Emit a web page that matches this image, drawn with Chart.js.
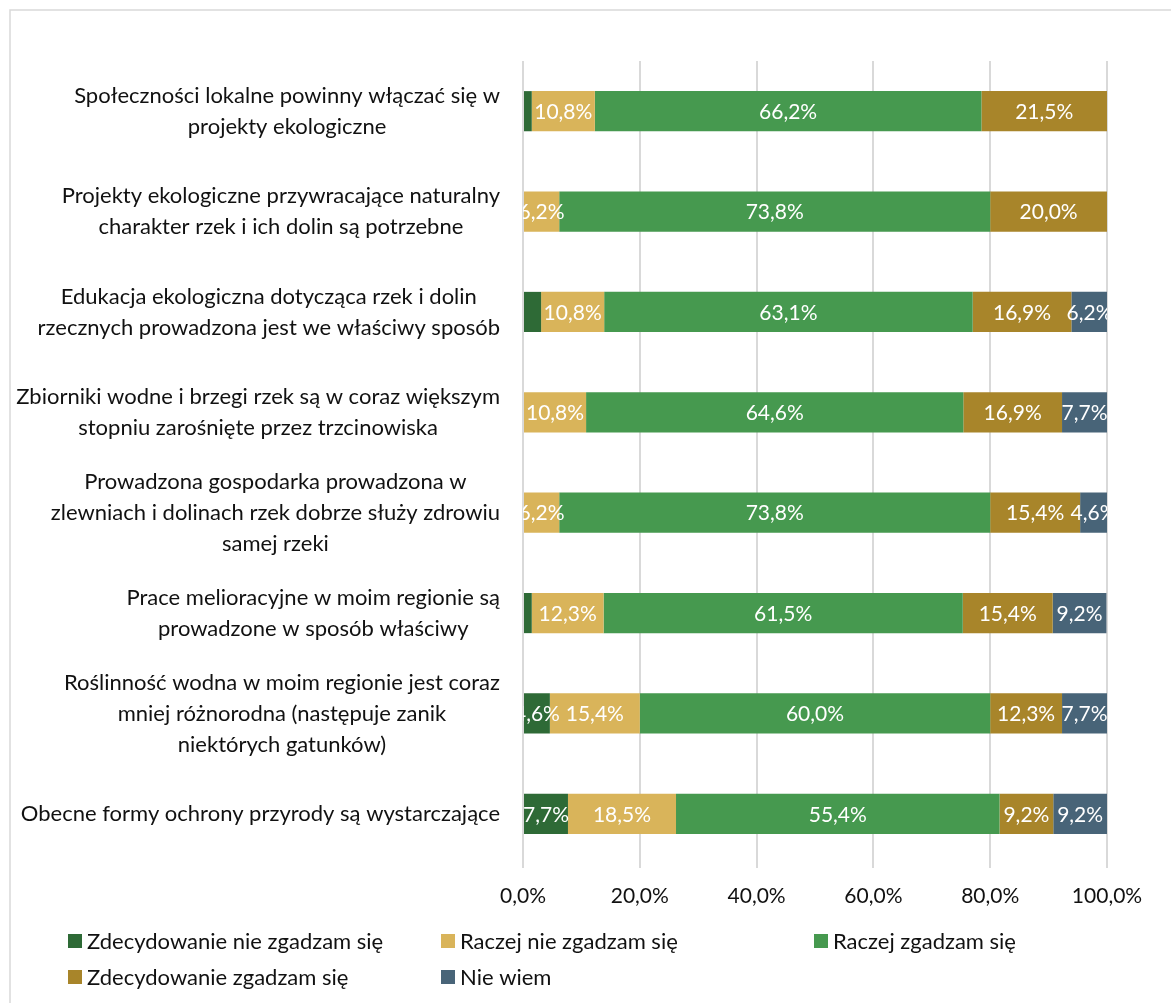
<!DOCTYPE html>
<html lang="pl">
<head>
  <meta charset="UTF-8">
  <title>Ocena działań ekologicznych</title>
  <script src="https://cdn.jsdelivr.net/npm/chart.js"></script>
  <style>
    html, body { margin: 0; padding: 0; background: #fff; }
    canvas { display: block; }
  </style>
</head>
<body>
  <canvas id="chart" width="1171" height="1003"></canvas>

  <script>
    // categories (each one is already split into lines, like in the original)
    const categories = [
      ["Społeczności lokalne powinny włączać się w", "projekty ekologiczne"],
      ["Projekty ekologiczne przywracające naturalny", "charakter rzek i ich dolin są potrzebne"],
      ["Edukacja ekologiczna dotycząca rzek i dolin", "rzecznych prowadzona jest we właściwy sposób"],
      ["Zbiorniki wodne i brzegi rzek są w coraz większym", "stopniu zarośnięte przez trzcinowiska"],
      ["Prowadzona gospodarka prowadzona w", "zlewniach i dolinach rzek dobrze służy zdrowiu", "samej rzeki"],
      ["Prace melioracyjne w moim regionie są", "prowadzone w sposób właściwy"],
      ["Roślinność wodna w moim regionie jest coraz", "mniej różnorodna (następuje zanik", "niektórych gatunków)"],
      ["Obecne formy ochrony przyrody są wystarczające"]
    ];

    const seriesNames = [
      "Zdecydowanie nie zgadzam się",
      "Raczej nie zgadzam się",
      "Raczej zgadzam się",
      "Zdecydowanie zgadzam się",
      "Nie wiem"
    ];

    // percentages
    const stronglyDisagree = [1.5, 0, 3.1, 0, 0, 1.5, 4.6, 7.7];
    const ratherDisagree   = [10.8, 6.2, 10.8, 10.8, 6.2, 12.3, 15.4, 18.5];
    const ratherAgree      = [66.2, 73.8, 63.1, 64.6, 73.8, 61.5, 60.0, 55.4];
    const stronglyAgree    = [21.5, 20.0, 16.9, 16.9, 15.4, 15.4, 12.3, 9.2];
    const dontKnow         = [0, 0, 6.2, 7.7, 4.6, 9.2, 7.7, 9.2];

    const xTickValues = [0, 20, 40, 60, 80, 100];

    const colors = ["#2E6A36", "#D9B45A", "#46994F", "#A8852A", "#486478"];
    const FONT = "Lato, 'Open Sans', sans-serif";

    function pct(v) {
      return v.toFixed(1).replace(".", ",") + "%";
    }

    // outer frame like the Excel chart area
    const framePlugin = {
      id: "frame",
      beforeDraw(chart) {
        const ctx = chart.ctx;
        ctx.save();
        ctx.strokeStyle = "#d9d9d9";
        ctx.lineWidth = 1.5;
        ctx.strokeRect(10, 10, 1300, 1300);
        ctx.restore();
      }
    };

    // category labels: block right aligned, lines centered inside the block
    const categoryLabels = {
      id: "categoryLabels",
      afterDraw(chart) {
        const ctx = chart.ctx;
        const yScale = chart.scales.y;
        const right = chart.chartArea.left - 23;
        const lineH = 31;
        ctx.save();
        ctx.font = "22px " + FONT;
        ctx.fillStyle = "#111";
        ctx.textAlign = "center";
        ctx.textBaseline = "middle";
        categories.forEach((lines, i) => {
          const y = yScale.getPixelForValue(i);
          const widest = Math.max(...lines.map(l => ctx.measureText(l).width));
          const cx = right - widest / 2;
          lines.forEach((line, j) => {
            ctx.fillText(line, cx, y + (j - (lines.length - 1) / 2) * lineH);
          });
        });
        ctx.restore();
      }
    };

    // value labels inside the bar segments
    const valueLabels = {
      id: "valueLabels",
      afterDatasetsDraw(chart) {
        const ctx = chart.ctx;
        const area = chart.chartArea;
        ctx.save();
        ctx.beginPath();
        ctx.rect(area.left, area.top, area.right - area.left, area.bottom - area.top);
        ctx.clip();
        ctx.font = "21px " + FONT;
        ctx.fillStyle = "#ffffff";
        ctx.textAlign = "center";
        ctx.textBaseline = "middle";
        chart.data.datasets.forEach((ds, di) => {
          const meta = chart.getDatasetMeta(di);
          meta.data.forEach((bar, i) => {
            const v = ds.data[i];
            if (v < 4) return;
            ctx.fillText(pct(v), (bar.x + bar.base) / 2, bar.y + 1);
          });
        });
        ctx.restore();
      }
    };

    // legend in three equal columns, like the original
    const gridLegend = {
      id: "gridLegend",
      afterDraw(chart) {
        const ctx = chart.ctx;
        const startX = 68, colW = 373, rowY = [941, 977], box = 14;
        ctx.save();
        ctx.font = "22px " + FONT;
        ctx.textBaseline = "middle";
        chart.data.datasets.forEach((ds, i) => {
          const x = startX + (i % 3) * colW;
          const y = rowY[Math.floor(i / 3)];
          ctx.fillStyle = ds.backgroundColor;
          ctx.fillRect(x, y - box / 2, box, box);
          ctx.fillStyle = "#111";
          ctx.fillText(ds.label, x + box + 5, y + 1);
        });
        ctx.restore();
      }
    };

    const seriesData = [stronglyDisagree, ratherDisagree, ratherAgree, stronglyAgree, dontKnow];

    new Chart(document.getElementById("chart"), {
      type: "bar",
      data: {
        labels: categories.map(c => c.join(" ")),
        datasets: seriesData.map((d, i) => ({
          label: seriesNames[i],
          data: d,
          backgroundColor: colors[i],
          borderWidth: 0,
          categoryPercentage: 1,
          barPercentage: 0.4
        }))
      },
      options: {
        indexAxis: "y",
        responsive: false,
        animation: false,
        layout: { padding: { top: 61, right: 64, left: 0, bottom: 89 } },
        plugins: {
          legend: { display: false },
          tooltip: { enabled: false }
        },
        scales: {
          x: {
            stacked: true,
            min: 0,
            max: 100,
            afterBuildTicks(scale) {
              scale.ticks = xTickValues.map(v => ({ value: v }));
            },
            afterFit(scale) { scale.height = 50; },
            grid: { color: "#d9d9d9", lineWidth: 2, tickLength: 4, drawTicks: true },
            border: { display: false },
            ticks: {
              padding: 16,
              color: "#111",
              font: { family: FONT, size: 21 },
              callback: v => pct(v)
            }
          },
          y: {
            stacked: true,
            afterFit(scale) { scale.width = 523; },
            grid: { display: false },
            border: { display: false },
            ticks: { display: false }
          }
        }
      },
      plugins: [framePlugin, valueLabels, categoryLabels, gridLegend]
    });
  </script>
</body>
</html>
